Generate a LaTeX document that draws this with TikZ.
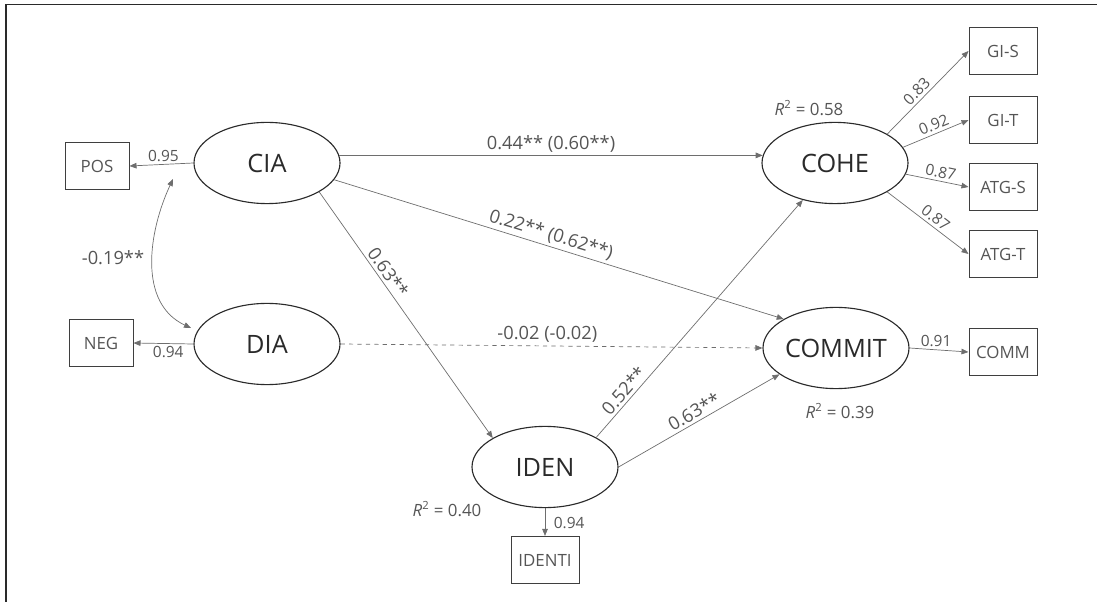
\documentclass[tikz,border=0pt]{standalone}
\usepackage{fontspec}
\setmainfont{Open Sans}
\usetikzlibrary{arrows.meta,shapes.geometric}

\definecolor{linegray}{HTML}{6E6E6E}
\definecolor{textgray}{HTML}{555555}
\definecolor{darkgray}{HTML}{2A2A2A}

\begin{document}
\begin{tikzpicture}[
    latent/.style={ellipse, draw=darkgray, line width=0.8pt, minimum width=3.65cm,
      minimum height=2.03cm, inner sep=0pt, text=darkgray, font=\fontsize{18}{20}\selectfont},
    manifest/.style={rectangle, draw=darkgray!90, line width=0.7pt, minimum width=1.7cm,
      minimum height=1.18cm, inner sep=0pt, text=textgray, font=\fontsize{12}{14}\selectfont},
    path/.style={draw=linegray, line width=0.5pt, -{Triangle[length=5pt,width=4pt]}},
    coef/.style={text=textgray, font=\fontsize{13}{15}\selectfont, inner sep=2pt},
    load/.style={text=textgray, font=\fontsize{11}{13}\selectfont, inner sep=2pt},
    rsq/.style={text=textgray, font=\fontsize{12}{14}\selectfont},
  ]

  % frame
  \useasboundingbox (0,0) rectangle (27.425,-15.05);
  \draw[line width=0.9pt, darkgray] (0.15,-15.05) -- (0.15,-0.12) -- (27.425,-0.12);

  % latent variables
  \node[latent] (CIA) at (6.675,-4.075) {CIA};
  \node[latent] (DIA) at (6.675,-8.6) {DIA};
  \node[latent] (IDEN) at (13.625,-11.675) {IDEN};
  \node[latent] (COHE) at (20.875,-4.075) {COHE};
  \node[latent] (COMMIT) at (20.9,-8.7) {COMMIT};

  % indicators
  \node[manifest, minimum width=1.6cm] (POS) at (2.425,-4.15) {POS};
  \node[manifest, minimum width=1.6cm] (NEG) at (2.525,-8.575) {NEG};
  \node[manifest] (GIS) at (25.075,-1.275) {GI-S};
  \node[manifest] (GIT) at (25.075,-3.0) {GI-T};
  \node[manifest] (ATGS) at (25.075,-4.675) {ATG-S};
  \node[manifest] (ATGT) at (25.075,-6.35) {ATG-T};
  \node[manifest] (COMM) at (25.075,-8.8) {COMM};
  \node[manifest] (IDENTI) at (13.625,-14.0) {IDENTI};

  % loadings
  \draw[path] (CIA.west) -- node[load, above, pos=0.47] {0.95} (POS.east);
  \draw[path] (DIA.west) -- node[load, below, pos=0.42] {0.94} (NEG.east);
  \draw[path] (IDEN.south) -- node[load, right, pos=0.55, xshift=4pt] {0.94} (IDENTI.north);
  \draw[path] (COMMIT.east) -- node[load, above, pos=0.45] {0.91} (COMM.west);
  \draw[path] (COHE.29) -- node[load, above, sloped, pos=0.44] {0.83} (GIS.west);
  \draw[path] (COHE.13) -- node[load, above, sloped, pos=0.52] {0.92} (GIT.west);
  \draw[path] (COHE.-9) -- node[load, above, sloped, pos=0.53] {0.87} (ATGS.west);
  \draw[path] (COHE.-29) -- node[load, above, sloped, pos=0.53] {0.87} (ATGT.west);

  % correlation
  \coordinate (ciaEnd) at (4.325,-4.475);
  \coordinate (diaEnd) at (4.775,-8.2);
  \draw[path, {Triangle[length=5pt,width=4pt]}-{Triangle[length=5pt,width=4pt]}]
    (ciaEnd) to[out=-115, in=155] (diaEnd);
  \node[coef] (corr) at (2.825,-6.45) {-0.19**};

  % structural paths
  \draw[path] (CIA.6) -- node[coef, above, pos=0.5] {0.44** (0.60**)} (COHE.174);
  \draw[path] (CIA.-14) -- node[coef, above, sloped, pos=0.475] {0.22** (0.62**)} (COMMIT.151);
  \draw[path] (CIA.-29) -- node[coef, above, sloped, pos=0.35] {0.63**} (IDEN.151);
  \draw[path, dashed] (DIA.east) -- node[coef, above, pos=0.49] {-0.02 (-0.02)} (COMMIT.west);
  \draw[path] (IDEN.30) -- node[coef, above, sloped, pos=0.17] {0.52**} (COHE.-131);
  \draw[path] (IDEN.east) -- node[coef, above, sloped, pos=0.5] {0.63**} (COMMIT.-155);

  % explained variance
  \node[rsq] (rsqCOHE) at (20.225,-2.7) {\textit{R}\textsuperscript{2} = 0.58};
  \node[rsq] (rsqCOMMIT) at (21.0,-10.275) {\textit{R}\textsuperscript{2} = 0.39};
  \node[rsq] (rsqIDEN) at (11.175,-12.725) {\textit{R}\textsuperscript{2} = 0.40};

\end{tikzpicture}
\end{document}
